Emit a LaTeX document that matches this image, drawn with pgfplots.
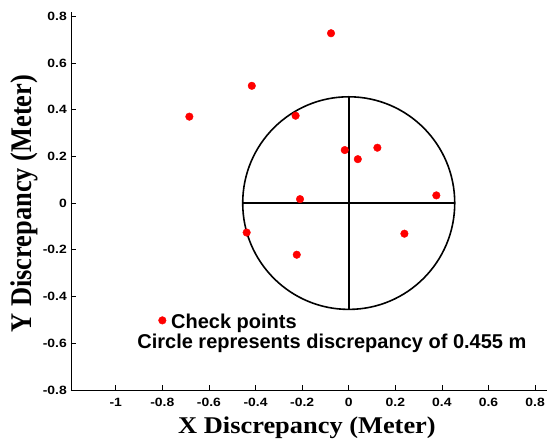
\documentclass[border=0pt]{standalone}
\usepackage{fontspec}
\setmainfont{Liberation Sans}
\newfontfamily\tickfont{Liberation Sans}[FakeStretch=1.16]
\newfontfamily\labfont{Liberation Serif}[FakeStretch=1.1]
\usepackage{pgfplots}
\pgfplotsset{compat=1.18}
\begin{document}
\begin{tikzpicture}
\useasboundingbox (-71pt,-51pt) rectangle (476pt,390pt);
\begin{axis}[
  at={(0,0)}, anchor=south west,
  width=476pt, height=378pt, scale only axis,
  xmin=-1.192, xmax=0.851, ymin=-0.8, ymax=0.818,
  axis lines*=left,
  axis line style={line width=0.8pt, black},
  tick align=inside,
  major tick length=5pt,
  tick style={line width=0.8pt, black},
  xtick={-1,-0.8,-0.6,-0.4,-0.2,0,0.2,0.4,0.6,0.8},
  xticklabels={-1,-0.8,-0.6,-0.4,-0.2,0,0.2,0.4,0.6,0.8},
  ytick={-0.8,-0.6,-0.4,-0.2,0,0.2,0.4,0.6,0.8},
  yticklabels={-0.8,-0.6,-0.4,-0.2,0,0.2,0.4,0.6,0.8},
  ticklabel style={font=\tickfont\bfseries\fontsize{12}{14}\selectfont, inner sep=0pt},
  xticklabel style={anchor=north, yshift=-8pt},
  yticklabel style={anchor=east, xshift=-4pt},
  xlabel={X Discrepancy (Meter)},
  ylabel={\scalebox{1}[1.25]{Y Discrepancy (Meter)}},
  label style={font=\labfont\bfseries\fontsize{24}{28}\selectfont, inner sep=0pt},
  xlabel style={at={(rel axis cs:0.5,0)}, anchor=base, yshift=-44pt, xshift=-2pt},
  ylabel style={at={(axis description cs:-0.084,0.493)}, anchor=base},
  clip=false,
]
% circle and cross
\draw[line width=1.6pt, black] (axis cs:0,0) circle[radius=0.455];
\addplot[black, line width=1.6pt, no marks] coordinates {(-0.455,0) (0.455,0)};
\addplot[black, line width=1.6pt, no marks] coordinates {(0,-0.455) (0,0.455)};
% check points
\addplot[only marks, mark=*, mark size=3.8pt, color=red, fill=red] coordinates {
  (-0.684,0.370) (-0.416,0.502) (-0.076,0.727) (-0.228,0.374)
  (-0.017,0.227) (0.039,0.188) (0.123,0.237) (-0.209,0.017)
  (0.376,0.033) (-0.438,-0.126) (-0.223,-0.221) (0.239,-0.131)
};
% legend marker
\addplot[only marks, mark=*, mark size=3.8pt, color=red, fill=red] coordinates {(-0.80,-0.502)};
\node[anchor=base west, inner sep=0pt, font=\bfseries\fontsize{20}{24}\selectfont] at (axis cs:-0.763,-0.535) {Check points};
\node[anchor=base west, inner sep=0pt, font=\bfseries\fontsize{20}{24}\selectfont] at (axis cs:-0.908,-0.621) {Circle represents discrepancy of 0.455 m};
\end{axis}
\end{tikzpicture}
\end{document}
